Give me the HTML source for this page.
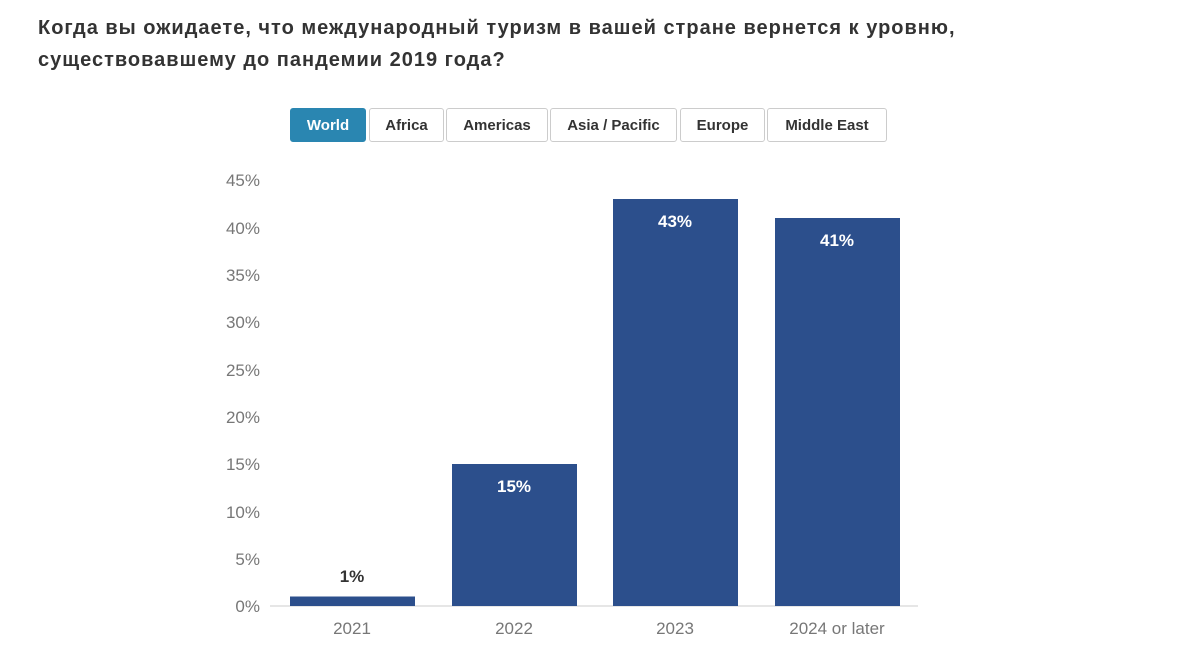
<!DOCTYPE html>
<html><head><meta charset="utf-8"><style>
body{margin:0;background:#fff;width:1204px;height:669px;overflow:hidden;font-family:"Liberation Sans",sans-serif}
h1{position:absolute;left:38px;top:12px;margin:0;font-size:20px;letter-spacing:1px;line-height:32px;font-weight:bold;color:#333;width:980px}
.btn{position:absolute;top:108px;border:1px solid #ccc;border-radius:3px;background:#fff;color:#333;font-weight:bold;font-size:15px;line-height:34px;text-align:center;box-sizing:border-box;height:34px}
.btn.on{background:#2a86b1;border-color:#2a86b1;color:#fff}
svg{position:absolute;left:0;top:0}
</style></head><body>
<h1>Когда вы ожидаете, что международный туризм в вашей стране вернется к уровню,<br>существовавшему до пандемии 2019 года?</h1>
<div class="btn on" style="left:290px;width:76px">World</div>
<div class="btn" style="left:369px;width:75px">Africa</div>
<div class="btn" style="left:446px;width:102px">Americas</div>
<div class="btn" style="left:550px;width:127px">Asia / Pacific</div>
<div class="btn" style="left:680px;width:85px">Europe</div>
<div class="btn" style="left:767px;width:120px">Middle East</div>
<svg width="1204" height="669" font-family="Liberation Sans, sans-serif">
<g font-size="17" fill="#777" text-anchor="end">
<text x="260" y="612">0%</text><text x="260" y="565">5%</text><text x="260" y="518">10%</text><text x="260" y="470">15%</text><text x="260" y="423">20%</text><text x="260" y="376">25%</text><text x="260" y="328">30%</text><text x="260" y="281">35%</text><text x="260" y="234">40%</text><text x="260" y="186">45%</text>
</g>
<line x1="270" y1="606" x2="918" y2="606" stroke="#ddd" stroke-width="1.5"/>
<g fill="#2c4f8c">
<rect x="290" y="596.5" width="125" height="9.5"/>
<rect x="452" y="464" width="125" height="142"/>
<rect x="613" y="199" width="125" height="407"/>
<rect x="775" y="218" width="125" height="388"/>
</g>
<g font-size="17" font-weight="bold" text-anchor="middle">
<text x="352" y="582" fill="#333">1%</text>
<text x="514" y="492" fill="#fff">15%</text>
<text x="675" y="227" fill="#fff">43%</text>
<text x="837" y="246" fill="#fff">41%</text>
</g>
<g font-size="17" fill="#777" text-anchor="middle">
<text x="352" y="634">2021</text><text x="514" y="634">2022</text><text x="675" y="634">2023</text><text x="837" y="634">2024 or later</text>
</g>
</svg>
</body></html>
